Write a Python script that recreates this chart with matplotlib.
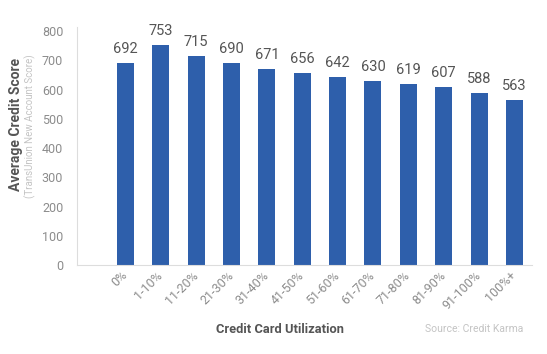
import matplotlib.pyplot as plt
import numpy as np

plt.rcParams['font.family'] = ['Roboto', 'DejaVu Sans']

categories = ['0%', '1-10%', '11-20%', '21-30%', '31-40%', '41-50%',
              '51-60%', '61-70%', '71-80%', '81-90%', '91-100%', '100%+']
scores = [692, 753, 715, 690, 671, 656, 642, 630, 619, 607, 588, 563]

bar_color = '#2e5fab'

fig = plt.figure(figsize=(5.47, 3.54), dpi=100)
ax = fig.add_axes([0.141, 0.251, 0.832, 0.673])

x = np.arange(len(categories))
bars = ax.bar(x, scores, width=0.48, color=bar_color, zorder=2)
for xi, v in zip(x, scores):
    ax.text(xi, v + 24, str(v), ha='center', va='bottom', fontsize=10.5, color='#555555')

ax.set_xlim(-1.36, 11.5)
ax.set_ylim(0, 814)
ax.set_yticks(range(0, 801, 100))
ax.set_xticks(x)
ax.set_xticklabels(categories, rotation=45, ha='right', va='center', rotation_mode='anchor')
ax.tick_params(axis='both', length=0, colors='#8c8c8c', labelsize=9)
ax.tick_params(axis='y', pad=10)
ax.tick_params(axis='x', pad=6)

for s in ['top', 'right']:
    ax.spines[s].set_visible(False)
ax.spines['left'].set_color('#dddddd')
ax.spines['bottom'].set_color('#dddddd')

fig.text(0.029, 0.648, 'Average Credit Score', rotation=90, ha='center', va='center',
         fontsize=10, fontweight='bold', color='#555555')
fig.text(0.055, 0.645, '(TransUnion New Account Score)', rotation=90, ha='center', va='center',
         fontsize=7, color='#c4c4c4')
fig.text(0.512, 0.07, 'Credit Card Utilization', ha='center', va='center',
         fontsize=9.3, fontweight='bold', color='#555555')
fig.text(0.957, 0.07, 'Source: Credit Karma', ha='right', va='center',
         fontsize=7.5, color='#c4c4c4')

fig.savefig('out.png', dpi=100)
